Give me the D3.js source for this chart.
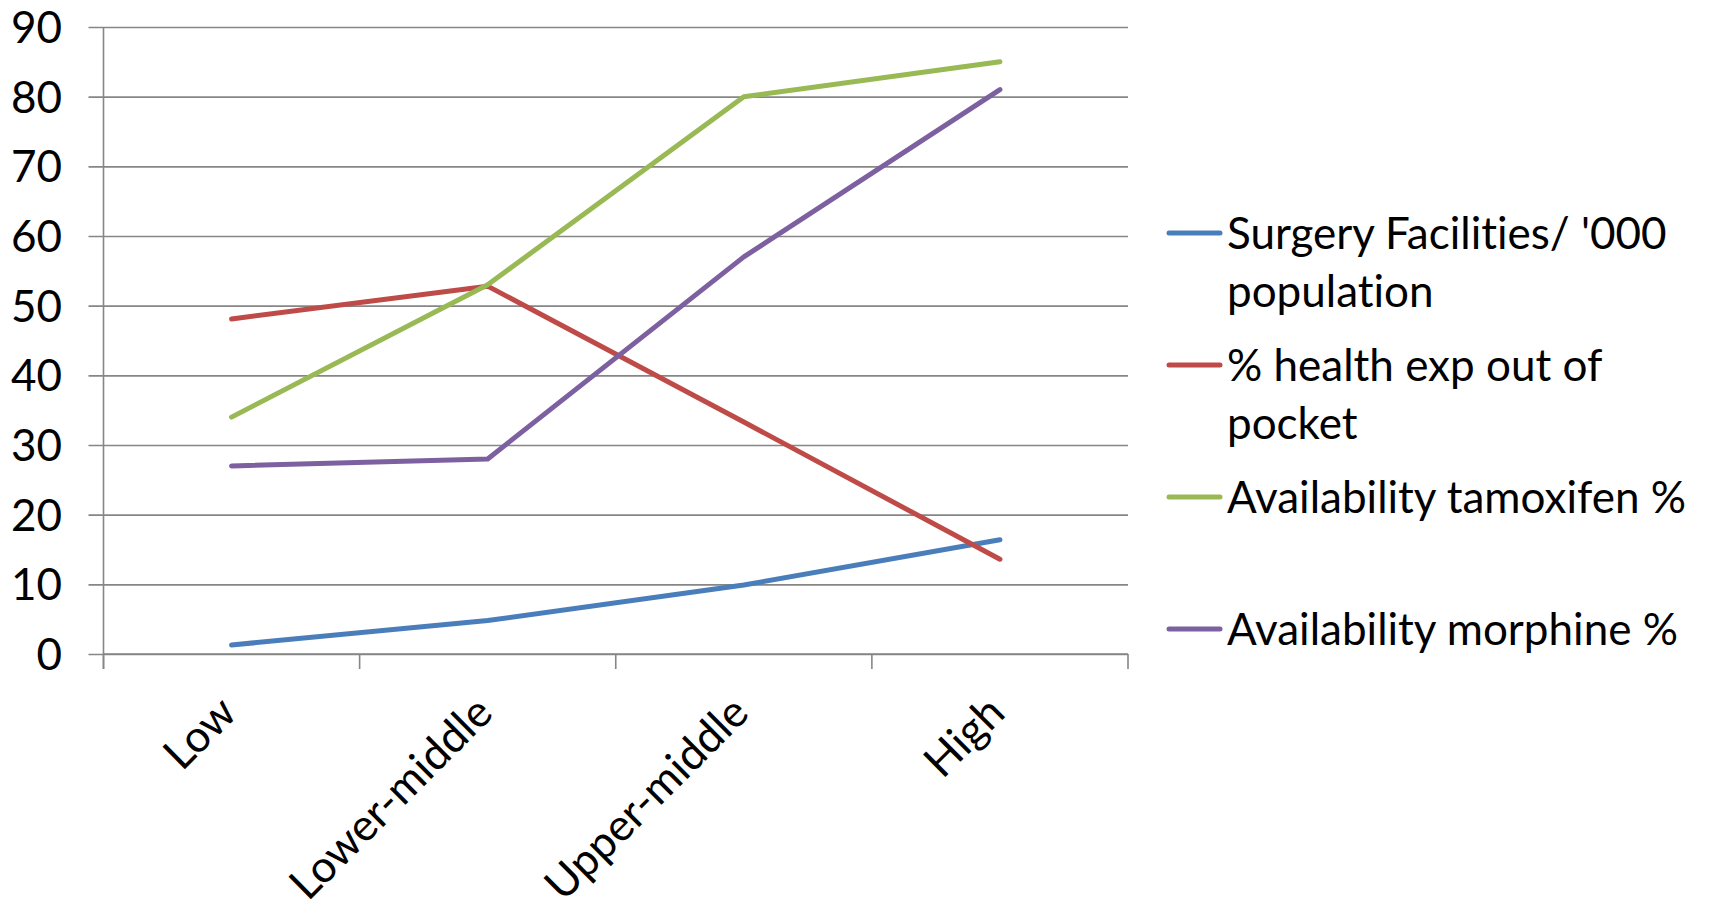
<!DOCTYPE html>
<html>
<head>
<meta charset="utf-8">
<script src="https://cdn.jsdelivr.net/npm/d3@7"></script>
<style>
  html, body { margin: 0; padding: 0; background: #fff; }
  svg { display: block; }
  text { font-family: Lato, "Open Sans", sans-serif; fill: #000; font-variant-ligatures: none; font-feature-settings: "liga" 0, "clig" 0; }
</style>
</head>
<body>
<svg id="chart" width="1713" height="909"></svg>
<script>
// Income groups along the x axis
const categories = ["Low", "Lower-middle", "Upper-middle", "High"];

// Series values per income group
const surgeryFacilities = [1.3, 4.8, 9.9, 16.4];
const outOfPocket = [48.1, 52.8, 33.3, 13.6];
const tamoxifen = [34, 53, 80, 85];
const morphine = [27, 28, 57, 81];

const seriesNames = [
  ["Surgery Facilities/ '000", "population"],
  ["% health exp out of", "pocket"],
  ["Availability tamoxifen %"],
  ["Availability morphine %"]
];
const seriesColors = ["#4a7ebb", "#be4b48", "#98b954", "#7d60a0"];
const yTicks = [0, 10, 20, 30, 40, 50, 60, 70, 80, 90];

const series = [surgeryFacilities, outOfPocket, tamoxifen, morphine].map((values, i) => ({
  name: seriesNames[i],
  color: seriesColors[i],
  values
}));

const svg = d3.select("#chart");
const plot = { left: 103.5, right: 1128, top: 27, bottom: 654 };

const x = d3.scaleBand().domain(categories).range([plot.left, plot.right]).padding(0);
const y = d3.scaleLinear().domain([0, 90]).range([plot.bottom, plot.top]);

// Horizontal gridlines, extended left to form the y tick marks
svg.append("g")
  .attr("transform", `translate(${plot.left},0)`)
  .call(d3.axisLeft(y).tickValues(yTicks).tickFormat(""))
  .call(g => g.select(".domain").remove())
  .call(g => g.selectAll(".tick line")
    .attr("x1", -15)
    .attr("x2", plot.right - plot.left)
    .attr("stroke", "#868686")
    .attr("stroke-width", 1.6));

// Y tick labels
svg.append("g").selectAll("text")
  .data(yTicks)
  .join("text")
  .attr("x", 62)
  .attr("y", d => y(d))
  .attr("dy", "0.36em")
  .attr("text-anchor", "end")
  .style("font-size", "44px")
  .text(d => d);

// Vertical axis line
svg.append("line")
  .attr("x1", plot.left).attr("x2", plot.left)
  .attr("y1", plot.top).attr("y2", plot.bottom + 15)
  .attr("stroke", "#868686").attr("stroke-width", 1.6);

// Category axis with ticks at band boundaries
const xAxis = svg.append("g");
xAxis.append("line")
  .attr("x1", plot.left).attr("x2", plot.right)
  .attr("y1", plot.bottom).attr("y2", plot.bottom)
  .attr("stroke", "#868686").attr("stroke-width", 1.6);
const boundaries = categories.map(c => x(c)).concat([x(categories[categories.length - 1]) + x.bandwidth()]);
xAxis.selectAll("line.tick")
  .data(boundaries)
  .join("line")
  .attr("class", "tick")
  .attr("x1", d => d).attr("x2", d => d)
  .attr("y1", plot.bottom).attr("y2", plot.bottom + 15)
  .attr("stroke", "#868686").attr("stroke-width", 1.6);

// Rotated category labels
xAxis.selectAll("text")
  .data(categories)
  .join("text")
  .attr("transform", d => `translate(${x(d) + x.bandwidth() / 2 - 4},${plot.bottom + 50}) rotate(-45)`)
  .attr("text-anchor", "end")
  .attr("dy", "0.36em")
  .style("font-size", "44px")
  .text(d => d);

// Series lines
const line = d3.line()
  .x((d, i) => x(categories[i]) + x.bandwidth() / 2)
  .y(d => y(d));

svg.append("g").selectAll("path")
  .data(series)
  .join("path")
  .attr("d", d => line(d.values))
  .attr("fill", "none")
  .attr("stroke", d => d.color)
  .attr("stroke-width", 5)
  .attr("stroke-linecap", "round")
  .attr("stroke-linejoin", "round");

// Legend
const legendY = [233, 365, 497, 629];
const legend = svg.append("g").selectAll("g")
  .data(series)
  .join("g")
  .attr("transform", (d, i) => `translate(1169,${legendY[i]})`);

legend.append("line")
  .attr("x1", 0).attr("x2", 51)
  .attr("y1", 0).attr("y2", 0)
  .attr("stroke", d => d.color)
  .attr("stroke-width", 5)
  .attr("stroke-linecap", "round");

legend.append("text")
  .attr("x", 58)
  .style("font-size", "44px")
  .selectAll("tspan")
  .data(d => d.name)
  .join("tspan")
  .attr("x", 58)
  .attr("y", (d, i) => i * 58)
  .attr("dy", "0.36em")
  .text(d => d);
</script>
</body>
</html>
